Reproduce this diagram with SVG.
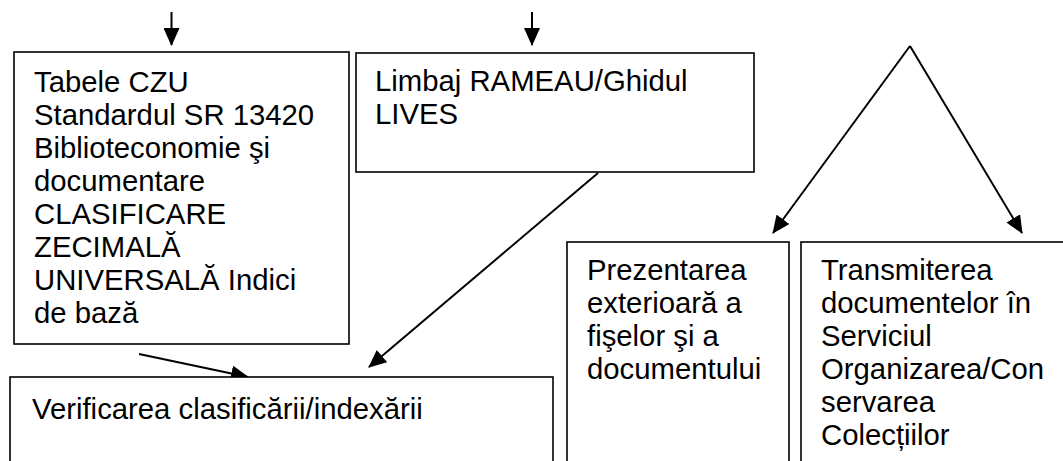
<svg xmlns="http://www.w3.org/2000/svg" width="1063" height="461" viewBox="0 0 1063 461">
  <defs>
    <style>
      .box { fill: #ffffff; stroke: #000000; stroke-width: 1.6; }
      .lbl { font-family: "Liberation Sans", Arial, sans-serif; font-size: 29.3px; fill: #000000; }
      .arr { stroke: #000000; stroke-width: 2; fill: none; marker-end: url(#head); }
    </style>
    <marker id="head" markerUnits="userSpaceOnUse" viewBox="0 0 18 16" markerWidth="18" markerHeight="16" refX="17" refY="8" orient="auto">
      <path d="M0,0 L18,8 L0,16 Z" fill="#000000"/>
    </marker>
  </defs>
  <rect width="1063" height="461" fill="#ffffff"/>

  <g id="connectors">
    <line class="arr" x1="171.5" y1="12" x2="171.5" y2="45"/>
    <line class="arr" x1="532" y1="12" x2="532" y2="45"/>
    <line class="arr" x1="598" y1="173" x2="369" y2="367"/>
    <line class="arr" x1="139" y1="354" x2="248" y2="377"/>
    <line class="arr" x1="910" y1="46" x2="773" y2="233"/>
    <line class="arr" x1="910" y1="46" x2="1022" y2="233"/>
  </g>

  <g id="node-tabele">
    <rect class="box" x="14" y="52" width="335" height="292"/>
    <text class="lbl" x="34" y="92">Tabele CZU</text>
    <text class="lbl" x="34" y="125">Standardul SR 13420</text>
    <text class="lbl" x="34" y="158">Biblioteconomie şi</text>
    <text class="lbl" x="34" y="191">documentare</text>
    <text class="lbl" x="34" y="224">CLASIFICARE</text>
    <text class="lbl" x="34" y="257">ZECIMALĂ</text>
    <text class="lbl" x="34" y="290">UNIVERSALĂ Indici</text>
    <text class="lbl" x="34" y="323">de bază</text>
  </g>

  <g id="node-rameau">
    <rect class="box" x="356" y="53" width="398" height="119"/>
    <text class="lbl" x="375" y="91">Limbaj RAMEAU/Ghidul</text>
    <text class="lbl" x="375" y="124">LIVES</text>
  </g>

  <g id="node-verificare">
    <rect class="box" x="10" y="377" width="543" height="100"/>
    <text class="lbl" x="32" y="419">Verificarea clasificării/indexării</text>
  </g>

  <g id="node-prezentare">
    <rect class="box" x="567" y="242" width="222" height="240"/>
    <text class="lbl" x="587" y="280">Prezentarea</text>
    <text class="lbl" x="587" y="313">exterioară a</text>
    <text class="lbl" x="587" y="346">fişelor şi a</text>
    <text class="lbl" x="587" y="379">documentului</text>
  </g>

  <g id="node-transmitere">
    <rect class="box" x="801" y="242" width="280" height="240"/>
    <text class="lbl" x="821" y="280">Transmiterea</text>
    <text class="lbl" x="821" y="313">documentelor în</text>
    <text class="lbl" x="821" y="346">Serviciul</text>
    <text class="lbl" x="821" y="379">Organizarea/Con</text>
    <text class="lbl" x="821" y="412">servarea</text>
    <text class="lbl" x="821" y="445">Colecțiilor</text>
  </g>
</svg>
